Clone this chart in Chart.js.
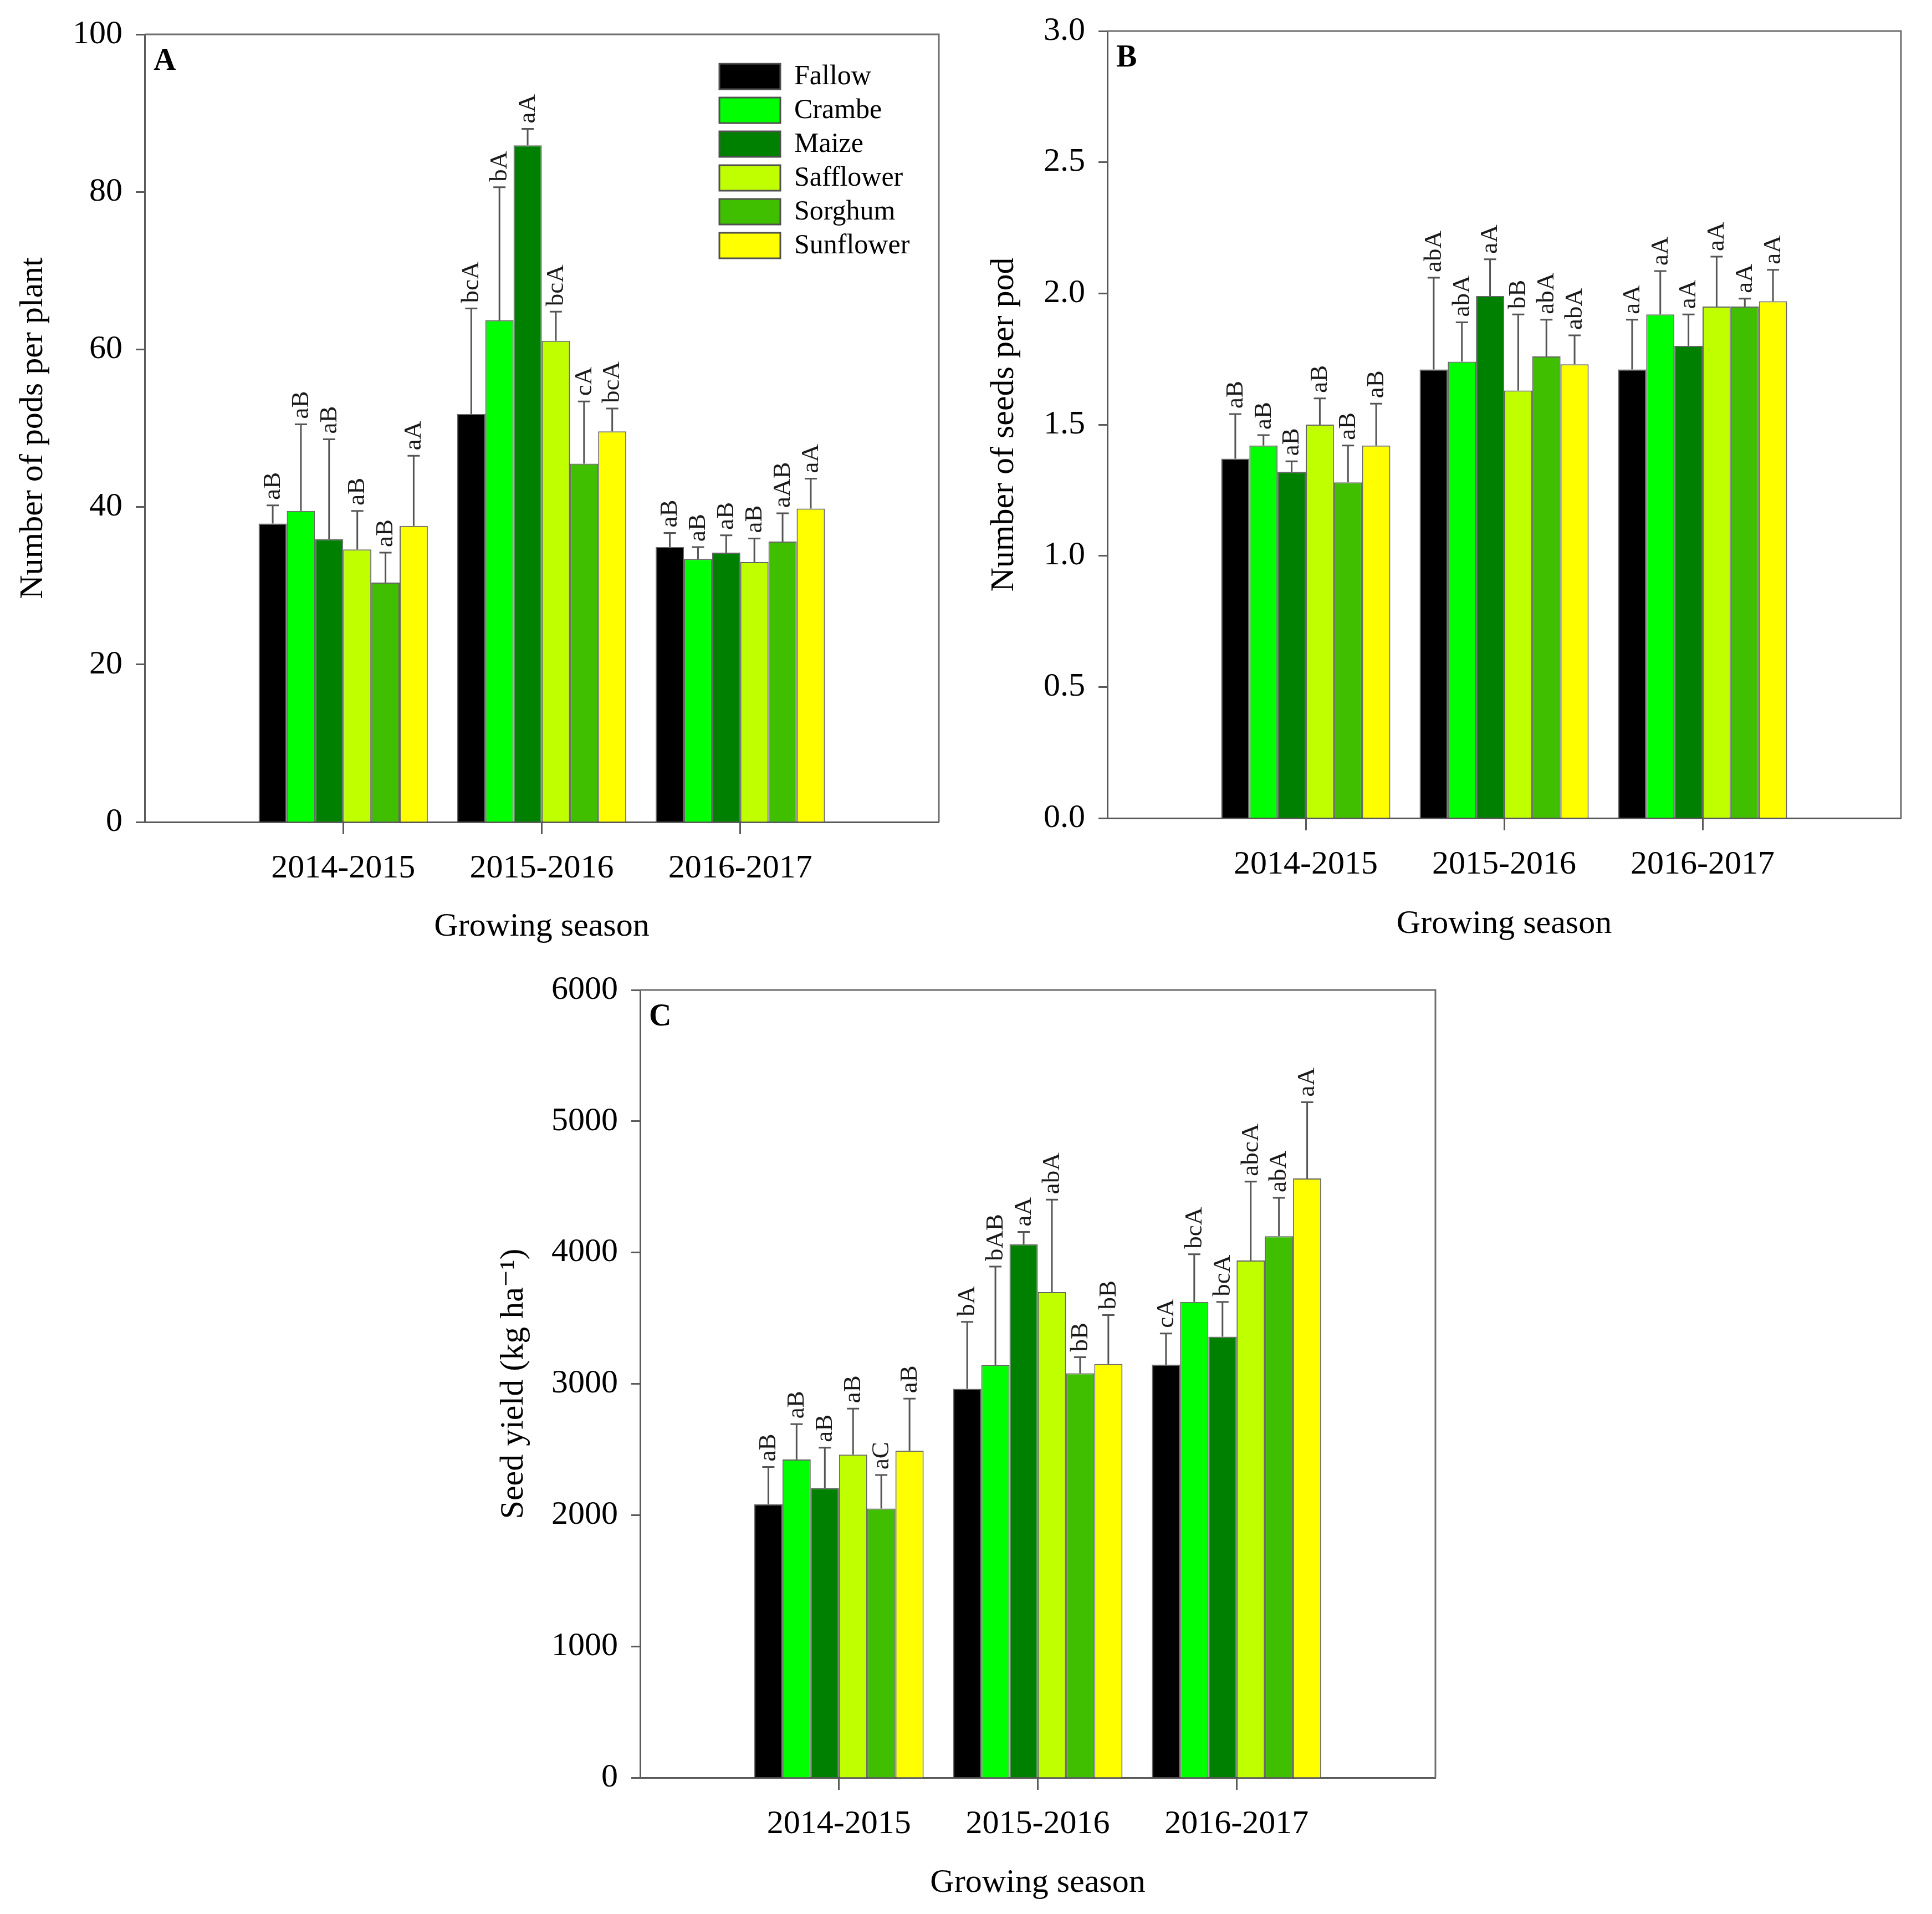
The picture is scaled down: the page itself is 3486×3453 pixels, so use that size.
<!DOCTYPE html>
<html><head><meta charset="utf-8">
<script src="https://cdn.jsdelivr.net/npm/chart.js@4.4.1/dist/chart.umd.min.js"></script>
<style>
html,body{margin:0;padding:0;background:#fff;}
body{width:3486px;height:3453px;position:relative;overflow:hidden;}
.panel{position:absolute;}
canvas{display:block;}
</style></head><body>
<div class="panel" style="left:0px;top:0px;"><canvas id="ca" width="1740" height="1740"></canvas></div>
<div class="panel" style="left:1736px;top:0px;"><canvas id="cb" width="1750" height="1740"></canvas></div>
<div class="panel" style="left:880px;top:1740px;"><canvas id="cc" width="1760" height="1713"></canvas></div>
<script>
// ---------- DATA ----------
const seasons = ['2014-2015', '2015-2016', '2016-2017'];
const treatments = ['Fallow', 'Crambe', 'Maize', 'Safflower', 'Sorghum', 'Sunflower'];
const colors = ['#000000', '#00FF00', '#008000', '#C0FF00', '#40BF00', '#FFFF00'];

// Panel A: number of pods per plant (rows = treatments, cols = seasons)
const podsMean = [[37.9, 51.8, 34.9], [39.5, 63.7, 33.4], [35.9, 85.9, 34.2], [34.6, 61.1, 33.0], [30.4, 45.5, 35.6], [37.6, 49.6, 39.8]];
const podsErr = [[2.3, 13.4, 1.8], [11.0, 16.9, 1.5], [12.7, 2.1, 2.2], [4.9, 3.7, 3.0], [3.8, 7.9, 3.6], [8.9, 2.9, 3.8]];
const podsLetters = [['aB', 'bcA', 'aB'], ['aB', 'bA', 'aB'], ['aB', 'aA', 'aB'], ['aB', 'bcA', 'aB'], ['aB', 'cA', 'aAB'], ['aA', 'bcA', 'aA']];
const podsTicks = [0, 20, 40, 60, 80, 100];

// Panel B: number of seeds per pod
const seedsMean = [[1.37, 1.71, 1.71], [1.42, 1.74, 1.92], [1.32, 1.99, 1.80], [1.50, 1.63, 1.95], [1.28, 1.76, 1.95], [1.42, 1.73, 1.97]];
const seedsErr = [[0.17, 0.35, 0.19], [0.04, 0.15, 0.165], [0.04, 0.14, 0.12], [0.10, 0.29, 0.19], [0.14, 0.14, 0.03], [0.16, 0.11, 0.12]];
const seedsLetters = [['aB', 'abA', 'aA'], ['aB', 'abA', 'aA'], ['aB', 'aA', 'aA'], ['aB', 'bB', 'aA'], ['aB', 'abA', 'aA'], ['aB', 'abA', 'aA']];
const seedsTicks = [0, 0.5, 1.0, 1.5, 2.0, 2.5, 3.0];

// Panel C: seed yield (kg ha-1)
const yieldMean = [[2083, 2962, 3146], [2424, 3142, 3624], [2206, 4063, 3359], [2461, 3699, 3940], [2050, 3080, 4124], [2490, 3151, 4564]];
const yieldErr = [[284, 510, 237], [269, 751, 363], [307, 94, 265], [350, 704, 600], [255, 123, 293], [397, 373, 581]];
const yieldLetters = [['aB', 'bA', 'cA'], ['aB', 'bAB', 'bcA'], ['aB', 'aA', 'bcA'], ['aB', 'abA', 'abcA'], ['aC', 'bB', 'abA'], ['aB', 'bB', 'aA']];
const yieldTicks = [0, 1000, 2000, 3000, 4000, 5000, 6000];

// ---------- STYLE ----------
const SERIF = "'Liberation Serif', 'Times New Roman', 'DejaVu Serif', serif";
const AXIS = '#5a5a5a';

const errorBarPlugin = {
  id: 'errbars',
  afterDatasetsDraw(chart, args, opts) {
    const ctx = chart.ctx, y = chart.scales.y;
    ctx.save();
    chart.data.datasets.forEach((ds, i) => {
      const meta = chart.getDatasetMeta(i);
      meta.data.forEach((el, j) => {
        const v = ds.data[j];
        if (v === null || v === undefined) return;
        const e = opts.err[i][j - 1];
        const yTop = y.getPixelForValue(v + e);
        const yBar = y.getPixelForValue(v);
        const x = el.x;
        ctx.strokeStyle = '#555';
        ctx.lineWidth = 3;
        ctx.beginPath();
        ctx.moveTo(x, yBar); ctx.lineTo(x, yTop);
        ctx.moveTo(x - 11, yTop); ctx.lineTo(x + 11, yTop);
        ctx.stroke();
        const lab = opts.letters[i][j - 1];
        ctx.save();
        ctx.translate(x + 1, yTop - 10);
        ctx.rotate(-Math.PI / 2);
        ctx.fillStyle = '#1a1a1a';
        ctx.font = '45px ' + SERIF;
        ctx.textAlign = 'left';
        ctx.textBaseline = 'middle';
        ctx.fillText(lab, 0, 0);
        ctx.restore();
      });
    });
    ctx.restore();
  }
};

const framePlugin = {
  id: 'frame',
  afterDraw(chart, args, opts) {
    const {ctx, chartArea: a} = chart;
    ctx.save();
    ctx.strokeStyle = '#6e6e6e';
    ctx.lineWidth = 3;
    ctx.beginPath();
    ctx.moveTo(a.left, a.top); ctx.lineTo(a.right, a.top); ctx.lineTo(a.right, a.bottom);
    ctx.stroke();
    // panel letter
    ctx.fillStyle = '#000';
    ctx.font = 'bold 56px ' + SERIF;
    ctx.textAlign = 'left';
    ctx.textBaseline = 'middle';
    ctx.fillText(opts.letter, a.left + 16, a.top + 50);
    ctx.restore();
  }
};

const boxLegendPlugin = {
  id: 'boxLegend',
  afterDraw(chart, args, opts) {
    if (!opts.display) return;
    const {ctx, chartArea: a} = chart;
    ctx.save();
    const x0 = a.left + opts.dx, y0 = a.top + opts.dy;
    chart.data.datasets.forEach((ds, i) => {
      const cy = y0 + i * 61;
      ctx.fillStyle = ds.backgroundColor;
      ctx.fillRect(x0, cy - 23, 110, 46);
      ctx.strokeStyle = '#505050';
      ctx.lineWidth = 3;
      ctx.strokeRect(x0, cy - 23, 110, 46);
      ctx.fillStyle = '#000';
      ctx.font = '50px ' + SERIF;
      ctx.textAlign = 'left';
      ctx.textBaseline = 'middle';
      ctx.fillText(ds.label, x0 + 135, cy + 1);
    });
    ctx.restore();
  }
};

function makeChart(id, means, errs, letters, ticks, yTitle, fmt, L) {
  const labels = ['', ...seasons, ''];
  const datasets = treatments.map((t, i) => ({
    label: t,
    data: [null, ...means[i], null],
    backgroundColor: colors[i],
    borderColor: 'rgba(0,0,0,0.6)',
    borderWidth: 2,
    borderSkipped: 'bottom',
    categoryPercentage: 0.852,
    barPercentage: 1.0
  }));
  return new Chart(document.getElementById(id), {
    type: 'bar',
    data: {labels, datasets},
    plugins: [errorBarPlugin, framePlugin, boxLegendPlugin],
    options: {
      responsive: false,
      devicePixelRatio: 1,
      animation: false,
      layout: {padding: {left: 0, top: L.top, right: L.right, bottom: L.bottom}},
      plugins: {
        legend: {display: false},
        tooltip: {enabled: false},
        errbars: {err: errs, letters: letters},
        frame: {letter: L.letter},
        boxLegend: {display: !!L.legend, dx: 1037, dy: 76}
      },
      scales: {
        x: {
          type: 'category',
          offset: false,
          afterFit(s) { s.height = L.xh; s.paddingLeft = 0; s.paddingRight = 0; },
          grid: {
            offset: false,
            drawOnChartArea: false, drawTicks: true, tickLength: 22, tickWidth: 3,
            tickColor: c => (c.index === 0 || c.index === 4) ? 'rgba(0,0,0,0)' : AXIS
          },
          border: {display: true, color: AXIS, width: 3},
          ticks: {autoSkip: false, maxRotation: 0, padding: 26, color: '#000', font: {family: SERIF, size: 60}},
          title: {display: true, text: 'Growing season', color: '#000', padding: {top: 0, bottom: 0}, font: {family: SERIF, size: 60}}
        },
        y: {
          min: ticks[0], max: ticks[ticks.length - 1],
          afterFit(s) { s.width = L.yw; s.paddingTop = 0; s.paddingBottom = 0; },
          afterBuildTicks(s) { s.ticks = ticks.map(v => ({value: v})); },
          grid: {drawOnChartArea: false, drawTicks: true, tickLength: 16, tickWidth: 3, tickColor: AXIS},
          border: {display: true, color: AXIS, width: 3},
          ticks: {padding: 24, color: '#000', font: {family: SERIF, size: 60}, callback: v => fmt(v)},
          title: {display: true, text: yTitle, color: '#000', padding: {top: L.tp, bottom: 0}, font: {family: SERIF, size: 60}}
        }
      }
    }
  });
}

makeChart('ca', podsMean, podsErr, podsLetters, podsTicks, 'Number of pods per plant', v => String(v),
  {top: 62, right: 46, bottom: 32, xh: 225, yw: 261, tp: 24, letter: 'A', legend: true});
makeChart('cb', seedsMean, seedsErr, seedsLetters, seedsTicks, 'Number of seeds per pod', v => v.toFixed(1),
  {top: 56, right: 56, bottom: 37, xh: 227, yw: 262, tp: 40, letter: 'B', legend: false});
makeChart('cc', yieldMean, yieldErr, yieldLetters, yieldTicks, 'Seed yield (kg ha\u207B\u00B9)', v => String(v),
  {top: 46, right: 50, bottom: 20, xh: 226, yw: 275, tp: 11, letter: 'C', legend: false});
</script>
</body></html>
